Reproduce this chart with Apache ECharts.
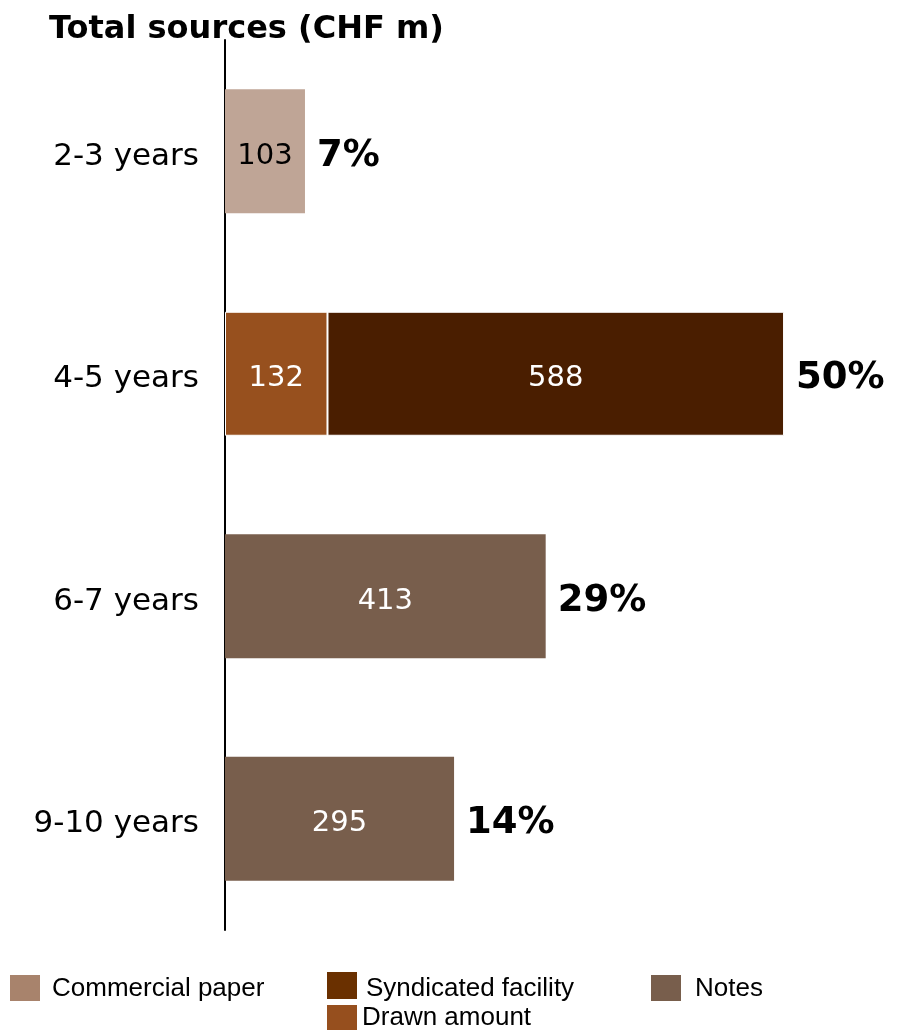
<!DOCTYPE html>
<html><head><meta charset="utf-8">
<script src="https://cdn.jsdelivr.net/npm/echarts@6/dist/echarts.min.js"></script>
<style>html,body{margin:0;padding:0;background:#fff}#c{width:898px;height:1030px}</style>
</head><body><div id="c"></div>
<script>
const categories = ['2-3 years', '4-5 years', '6-7 years', '9-10 years'];
const commercialPaper = [103, '-', '-', '-'];
const drawnAmount = ['-', 132, '-', '-'];
const syndicatedFacility = ['-', 588, '-', '-'];
const notes = ['-', '-', 413, 295];
const totals = [103, 720, 413, 295];
const shareLabels = ['7%', '50%', '29%', '14%'];
const title = 'Total sources (CHF m)';

const FONT = '"DejaVu Sans", Verdana, sans-serif';
const LFONT = '"Liberation Sans", Arial, sans-serif';
const chart = echarts.init(document.getElementById('c'), null, {renderer: 'canvas'});

function barSeries(name, data, color, labelColor, border) {
  return {
    name, type: 'bar', stack: 'a', data, barWidth: 124,
    itemStyle: {color, borderColor: '#fff', borderWidth: border ? 1 : 0},
    label: {show: true, position: 'inside', offset: [0, 5], color: labelColor, fontSize: 29, fontFamily: FONT},
    silent: true
  };
}

chart.setOption({
  animation: false,
  title: {text: title, left: 44, top: 9, textStyle: {fontFamily: FONT, fontWeight: 'bold', fontSize: 32, color: '#000'}},
  grid: {left: 225, top: 40, bottom: 100, width: 660},
  xAxis: {type: 'value', min: 0, max: 850, show: false},
  yAxis: {
    type: 'category', data: categories, inverse: true,
    axisLine: {show: true, lineStyle: {color: '#000', width: 2}},
    axisTick: {show: false},
    axisLabel: {
      color: '#000', fontSize: 31, fontFamily: FONT, margin: 26,
      formatter: v => '{a|' + v + '}',
      rich: {a: {color: '#000', fontSize: 31, fontFamily: FONT, padding: [11, 0, 0, 0]}}
    }
  },
  legend: {show: false},
  series: [
    barSeries('Commercial paper', commercialPaper, '#bfa596', '#000', false),
    barSeries('Drawn amount', drawnAmount, '#97501e', '#fff', true),
    barSeries('Syndicated facility', syndicatedFacility, '#4a1e00', '#fff', true),
    barSeries('Notes', notes, '#785e4c', '#fff', false),
    {
      name: 'share', type: 'bar', data: totals, barWidth: 124, barGap: '-100%', silent: true,
      itemStyle: {color: 'rgba(0,0,0,0)'},
      label: {show: true, position: 'right', distance: 12, offset: [0, 5], fontSize: 37, fontWeight: 'bold', fontFamily: FONT, color: '#000',
        formatter: p => shareLabels[p.dataIndex]}
    }
  ],
  graphic: [
    {type: 'rect', shape: {x: 10, y: 975, width: 30, height: 26}, style: {fill: '#a8836c'}},
    {type: 'text', x: 52, y: 989, style: {text: 'Commercial paper', fontSize: 26, fontFamily: LFONT, fill: '#000', textVerticalAlign: 'middle'}},
    {type: 'rect', shape: {x: 327, y: 972, width: 30, height: 27}, style: {fill: '#6a3000'}},
    {type: 'text', x: 366, y: 989, style: {text: 'Syndicated facility', fontSize: 26, fontFamily: LFONT, fill: '#000', textVerticalAlign: 'middle'}},
    {type: 'rect', shape: {x: 327, y: 1005, width: 30, height: 25}, style: {fill: '#964f1e'}},
    {type: 'text', x: 362, y: 1018, style: {text: 'Drawn amount', fontSize: 26, fontFamily: LFONT, fill: '#000', textVerticalAlign: 'middle'}},
    {type: 'rect', shape: {x: 651, y: 975, width: 30, height: 26}, style: {fill: '#785e4c'}},
    {type: 'text', x: 695, y: 989, style: {text: 'Notes', fontSize: 26, fontFamily: LFONT, fill: '#000', textVerticalAlign: 'middle'}}
  ]
});
</script></body></html>
